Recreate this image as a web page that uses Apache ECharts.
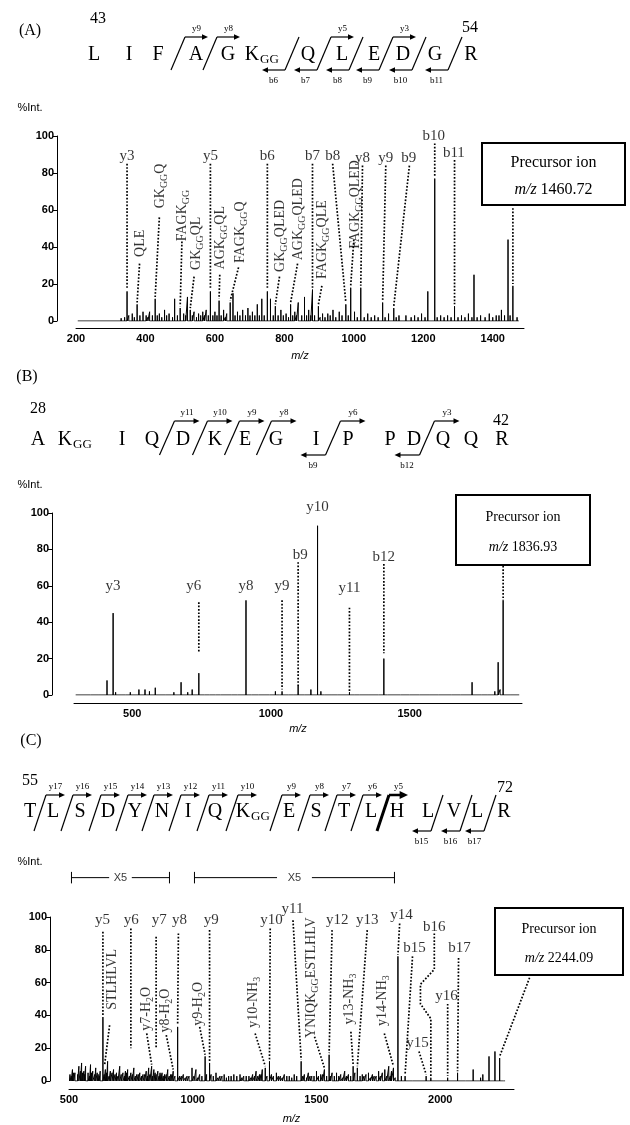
<!DOCTYPE html>
<html>
<head>
<meta charset="utf-8">
<script src="https://cdn.jsdelivr.net/npm/echarts@6/dist/echarts.min.js"></script>
<style>
  html, body { margin: 0; padding: 0; background: #fff; }
  #main { width: 630px; height: 1125px; }
</style>
</head>
<body>
<div id="main"></div>
<script>
// ---------- data: peak lists ----------
var mzA = [330,340,347,362,376,393,402,412,428,440,455,468,484,500,510,521,529,540,553,565,575,587,600,612,625,634,644,652,665,680,695,708,722,735,751,760,774,790,805,818,830,840,858,870,881,898,910,925,940,958,977,991,1002,1020,1040,1060,1083,1100,1115,1130,1150,1175,1195,1213,1233,1250,1270,1290,1310,1330,1346,1365,1390,1410,1425,1444,1458,1470];
var intA = [1.5,2,16,4,9,5,3,5,12,4,6,4,12,7,4,13,6,5,4,5,6,16,5,11,6,4,10,15,5,6,7,5,9,12,16,12,8,6,4,9,5,10,13,6,17,8,4,4,6,5,9,18,5,18,4,3,10,4,7,3,3,3,4,16,77,3,3,8,3,4,25,3,4,3,6,44,19,2];
// low-level noise peaks of spectrum A
var mzA2 = [335,352,368,384,407,420,434,447,461,478,492,516,535,547,559,570,581,594,606,618,630,658,672,688,701,715,728,742,768,782,797,812,824,835,850,864,876,887,903,917,932,948,966,984,1010,1030,1050,1070,1090,1122,1165,1185,1205,1240,1260,1280,1300,1320,1340,1355,1378,1400,1418,1434,1450];
var intA2 = [1,3,2,3,2,3,3,2,3,2,3,3,3,2,3,3,3,3,3,3,2,3,3,3,3,3,3,3,3,3,3,2,3,3,3,3,3,3,2,2,3,2,3,3,2,2,2,2,2,2,2,2,2,2,2,2,2,2,2,2,2,2,3,3,3];
var rangeA = [205, 1475];

var mzB = [409,431,463,493,524,546,562,583,621,650,676,700,716,740,778,818,857,910,955,995,1016,1040,1064,1098,1144,1168,1192,1241,1283,1320,1388,1407,1467,1536,1605,1684,1725,1782,1807,1819,1826,1837,1851];
var intB = [8,45,1,1.5,3,3,2,4,1,1.5,7,1.5,3,12,1,1,1,52,1,1,2,2,1,5,3,93,1,1,1.5,1,1,20,1,1,1,1,7,1,2,18,3,52,1];
var mzB2 = [350,380,440,475,510,600,640,690,760,800,880,930,975,1030,1080,1120,1180,1220,1300,1350,1420,1500,1570,1650,1760,1862];
var intB2 = [0.8,1,1.5,1,1,1,1,1,1,1,1,1,1,1,1,1,2,1,1,1,1,1,1,1,1,1];
var rangeB = [296, 1895];

var mzC = [504,514,524,540,551,560,567,577,587,596,608,618,626,637,647,656,667,680,692,705,718,728,737,750,762,774,786,799,812,822,834,843,852,859,868,876,886,899,911,921,939,947,962,977,997,1013,1028,1050,1068,1074,1094,1110,1127,1145,1166,1191,1206,1227,1242,1256,1270,1281,1293,1310,1318,1338,1354,1370,1390,1410,1438,1451,1467,1481,1500,1517,1532,1551,1563,1581,1598,1614,1629,1648,1655,1665,1685,1700,1710,1726,1741,1751,1766,1776,1792,1803,1811,1829,1843,1858,1889,1943,1962,1995,2030,2070,2102,2133,2163,2172,2197,2221,2240,2255];
var intC = [4,7,5,9,11,6,9,5,10,6,8,4,6,39,7,12,6,7,5,9,5,6,7,5,8,4,5,4,6,8,9,7,4,6,5,5,4,7,4,6,33,3,4,3,8,7,4,15,11,4,5,3,4,3,4,4,3,3,4,6,4,7,8,12,4,5,3,4,3,4,12,4,5,3,6,4,7,16,5,5,4,6,4,9,5,8,4,4,5,4,3,6,5,7,9,6,8,76,3,3,1,3,2,1,2,5,1,7,2,4,15,18,14,1];
// dense low-level grass of spectrum C
var mzC2 = [509,519,535,546,555,562,583,591,604,614,622,642,652,662,674,686,698,711,724,733,744,756,768,780,793,806,817,827,838,848,864,872,881,893,905,916,928,954,970,985,1005,1020,1037,1056,1083,1102,1118,1136,1155,1178,1198,1216,1235,1250,1263,1276,1300,1326,1346,1362,1380,1400,1420,1445,1460,1474,1490,1508,1525,1541,1556,1572,1590,1606,1621,1638,1676,1692,1718,1733,1758,1784,1798,1818];
var intC2 = [3,5,4,6,5,4,3,5,4,5,3,4,5,3,5,4,3,4,3,5,3,4,3,4,3,4,3,4,3,5,3,4,3,4,3,4,3,3,2,3,3,2,3,4,3,2,3,2,3,3,2,3,2,3,3,4,3,3,3,2,3,2,3,3,2,3,3,3,4,3,3,3,3,2,3,3,3,3,2,3,3,3,3,2];
var rangeC = [502, 2262];

var yTicks = [0, 20, 40, 60, 80, 100];

// peptide sequences, fragment sites (cleavage after residue n)
var seqA = ['L','I','F','A','G','K','Q','L','E','D','G','R'];
var ggA = [5], ySitesA = [3,4,7,9], bSitesA = [6,7,8,9,10,11], endsA = ['43','54'];
var seqB = ['A','K','I','Q','D','K','E','G','I','P','P','D','Q','Q','R'];
var ggB = [1], ySitesB = [4,5,6,7,9,12], bSitesB = [9,12], endsB = ['28','42'];
var seqC = ['T','L','S','D','Y','N','I','Q','K','E','S','T','L','H','L','V','L','R'];
var ggC = [8], ySitesC = [1,2,3,4,5,6,7,8,9,10,11,12,13], bSitesC = [15,16,17], endsC = ['55','72'];

var precursor = ['1460.72', '1836.93', '2244.09'];

// ---------- annotations (label anchor in m/z, %Int; leader lines) ----------
var annA = [
  {t:'y3', x:347, y:89, line:[[347,85],[347,17]]},
  {t:'y5', x:587, y:89, line:[[587,85],[587,17]]},
  {t:'b6', x:751, y:89, line:[[751,85],[751,17]]},
  {t:'b7', x:881, y:89, line:[[881,85],[881,18]]},
  {t:'b8', x:939, y:89, line:[[939,85],[977,10]]},
  {t:'y8', x:1025, y:88, line:[[1025,84],[1020,19]]},
  {t:'y9', x:1092, y:88, line:[[1092,84],[1083,11]]},
  {t:'b9', x:1158, y:88, line:[[1160,84],[1115,8]]},
  {t:'b10', x:1230, y:100, line:[[1233,96],[1233,78]]},
  {t:'b11', x:1288, y:91, line:[[1290,87],[1290,9]]},
  {line:[[1458,61],[1458,20]]},
  {t:'QLE', x:385, y:42, r:90, line:[[383,31],[376,10]]},
  {t:'GK{s|GG}Q', x:442, y:73, r:90, line:[[440,56],[428,13]]},
  {t:'FAGK{s|GG}', x:506, y:57, r:90, line:[[505,43],[500,8]]},
  {t:'GK{s|GG}QL', x:546, y:42, r:90, line:[[540,24],[529,7]]},
  {t:'AGK{s|GG}QL', x:616, y:45, r:90, line:[[614,25],[612,12]]},
  {t:'FAGK{s|GG}Q', x:673, y:48, r:90, line:[[668,29],[644,11]]},
  {t:'GK{s|GG}QLED', x:789, y:46, r:90, line:[[786,24],[774,9]]},
  {t:'AGK{s|GG}QLED', x:841, y:55, r:90, line:[[838,31],[818,10]]},
  {t:'FAGK{s|GG}QLE', x:910, y:44, r:90, line:[[908,19],[898,9]]},
  {t:'FAGK{s|GG}QLED', x:1005, y:63, r:90, line:[[1000,44],[991,19]]}
];
var annB = [
  {t:'y3', x:431, y:60},
  {t:'y6', x:722, y:60, line:[[740,51],[740,23]]},
  {t:'y8', x:910, y:60},
  {t:'y9', x:1040, y:60, line:[[1040,52],[1040,3]]},
  {t:'b9', x:1106, y:77, line:[[1098,73],[1098,5]]},
  {t:'y10', x:1168, y:103},
  {t:'y11', x:1283, y:59, line:[[1283,48],[1283,2]]},
  {t:'b12', x:1407, y:76, line:[[1407,72],[1407,23]]},
  {line:[[1837,71],[1837,52]]}
];
var annC = [
  {t:'y5', x:635, y:98, line:[[637,91],[637,40]]},
  {t:'y6', x:752, y:98, line:[[750,93],[750,20]]},
  {t:'y7', x:865, y:98, line:[[852,88],[852,20]]},
  {t:'y8', x:946, y:98, line:[[942,90],[939,34]]},
  {t:'y9', x:1075, y:98, line:[[1068,92],[1068,12]]},
  {t:'y10', x:1318, y:98, line:[[1313,93],[1310,13]]},
  {t:'y11', x:1403, y:105, line:[[1405,98],[1438,13]]},
  {t:'y12', x:1584, y:98, line:[[1563,92],[1551,17]]},
  {t:'y13', x:1705, y:98, line:[[1705,92],[1665,9]]},
  {t:'y14', x:1843, y:101, line:[[1836,96],[1829,77]]},
  {t:'b15', x:1896, y:81, line:[[1888,76],[1858,4]]},
  {t:'b16', x:1976, y:94, line:[[1976,90],[1976,68],[1920,59],[1920,47],[1962,38],[1962,3]]},
  {t:'b17', x:2078, y:81, line:[[2074,75],[2070,6]]},
  {t:'y16', x:2025, y:52, line:[[2030,47],[2030,3]]},
  {t:'y15', x:1908, y:23, line:[[1914,18],[1943,4]]},
  {line:[[2361,63],[2240,15]]},
  {t:'STLHLVL', x:676, y:62, r:90, line:[[664,34],[644,10]]},
  {t:'y7-H{s|2}O', x:812, y:44, r:90, line:[[814,29],[834,10]]},
  {t:'y8-H{s|2}O', x:890, y:43, r:90, line:[[893,28],[921,7]]},
  {t:'y9-H{s|2}O', x:1023, y:47, r:90, line:[[1028,33],[1050,16]]},
  {t:'y10-NH{s|3}', x:1245, y:48, r:90, line:[[1252,29],[1293,9]]},
  {t:'YNIQK{s|GG}ESTLHLV', x:1479, y:63, r:90, line:[[1492,27],[1532,8]]},
  {t:'y13-NH{s|3}', x:1633, y:50, r:90, line:[[1639,30],[1648,10]]},
  {t:'y14-NH{s|3}', x:1766, y:49, r:90, line:[[1774,29],[1811,9]]}
];
// x5 magnification bars above panel C
var x5Bars = [[510, 906], [1007, 1815]];

// ---------- layout ----------
var SERIF = 'Liberation Serif', SANS = 'Liberation Sans';
var GRIDS = [
  {left: 76, top: 136, width: 448, height: 185, min: 200, max: 1490, step: 200, lab: 200, yOff: 19, xOff: 7, gap: 22},
  {left: 74, top: 513, width: 448, height: 182, min: 290, max: 1905, step: 10, lab: 500, yOff: 22, xOff: 8, gap: 20},
  {left: 69, top: 917, width: 445, height: 167, min: 500, max: 2298, step: 500, lab: 500, yOff: 19, xOff: 8, gap: 24}
];

// stick spectrum: every peak drawn as a spike from the baseline
function stick(mz, it, range) {
  var pk = mz.map(function (m, i) { return [m, it[i]]; }).sort(function (a, b) { return a[0] - b[0]; });
  var pts = [[range[0], 0]];
  pk.forEach(function (p) { pts.push([p[0], 0], [p[0], p[1]], [p[0], 0]); });
  pts.push([range[1], 0]);
  return pts;
}

var rich = {
  s: {fontSize: 10, lineHeight: 10, verticalAlign: 'bottom', fontFamily: SERIF, color: '#000'},
  x: {fontSize: 11, fontFamily: SANS, color: '#000'}
};

function annSeries(ann, idx) {
  var lines = [], labels = [];
  ann.forEach(function (a) {
    if (a.line) lines.push({coords: a.line});
    if (a.t) labels.push({value: [a.x, a.y], t: a.t, label: {rotate: a.r || 0, fontSize: a.r ? 14 : 15}});
  });
  return [{
    type: 'lines', coordinateSystem: 'cartesian2d', xAxisIndex: idx, yAxisIndex: idx,
    polyline: true, silent: true, clip: false, z: 3,
    lineStyle: {color: '#000', width: 1.7, type: 'dotted', opacity: 1},
    data: lines
  }, {
    type: 'scatter', xAxisIndex: idx, yAxisIndex: idx, symbolSize: 0, silent: true, clip: false, z: 4,
    label: {
      show: true, position: 'inside', color: '#000', fontFamily: SERIF, fontSize: 15, lineHeight: 18,
      align: 'center', verticalAlign: 'middle',
      formatter: function (p) { return p.data.t; }, rich: rich
    },
    data: labels
  }];
}

// ---------- sequence diagrams (pixel layout) ----------
var seqLayout = [
  {resX: [94,129,158,196,228,252,308,342,374,403,435,471], cutX: {3:178,4:210,6:292,7:324,8:356,9:386,10:419,11:455},
   rowY: 55, yTop: 37, yBot: 70, dx: 7, arr: 23, fs: 20, ggDx: 8, nums: [[98,19],[470,28]]},
  {resX: [38,65,122,152,183,215,245,276,316,348,390,414,443,471,502], cutX: {4:167,5:200,6:232,7:264,9:333,12:427},
   rowY: 440, yTop: 421, yBot: 455, dx: 7.5, arr: 25, fs: 20, ggDx: 8, nums: [[38,409],[501,421]]},
  {resX: [30,53,80,108,135,162,188,215,243,289,316,344,371,397,428,454,477,504],
   cutX: {1:40,2:67,3:95,4:122,5:148,6:175,7:203,8:232,9:276,10:304,11:331,12:357,13:383,15:437,16:466,17:490},
   rowY: 812, yTop: 795, yBot: 831, dx: 6, arr: 19, fs: 20, ggDx: 8, bold: 13, nums: [[30,781],[505,788]]}
];

function txt(x, y, s, font, align) {
  return {type: 'text', x: x, y: y, silent: true,
    style: {text: s, font: font, fill: '#000', align: align || 'center', verticalAlign: 'middle',
            textAlign: align || 'center', textVerticalAlign: 'middle'}};
}
function seg(x1, y1, x2, y2, w) {
  return {type: 'line', silent: true, shape: {x1: x1, y1: y1, x2: x2, y2: y2}, style: {stroke: '#000', lineWidth: w || 1.2}};
}
function head(x, y, dir, w) {
  var s = w > 2 ? 1.4 : 1;
  return {type: 'polygon', silent: true,
    shape: {points: [[x, y], [x - dir * 6 * s, y - 2.8 * s], [x - dir * 6 * s, y + 2.8 * s]]}, style: {fill: '#000'}};
}

function seqGraphic(seq, gg, ySites, bSites, ends, L) {
  var els = [], n = seq.length;
  seq.forEach(function (r, i) {
    els.push(txt(L.resX[i], L.rowY, r, L.fs + 'px ' + SERIF));
    if (gg.indexOf(i) >= 0) els.push(txt(L.resX[i] + L.ggDx, L.rowY + 5, 'GG', '13px ' + SERIF, 'left'));
  });
  var sites = ySites.concat(bSites.filter(function (s) { return ySites.indexOf(s) < 0; }));
  sites.forEach(function (site) {
    var cx = L.cutX[site], w = (L.bold === site) ? 3 : 1.2;
    var x1 = cx - L.dx, x2 = cx + L.dx;
    els.push(seg(x1, L.yBot, x2, L.yTop, w));
    if (ySites.indexOf(site) >= 0) {
      var aw = (L.bold === site) ? 2.5 : 1.2;
      els.push(seg(x2, L.yTop, x2 + L.arr - 4, L.yTop, aw), head(x2 + L.arr, L.yTop, 1, aw));
      els.push(txt(x2 + L.arr / 2, L.yTop - 8, 'y' + (n - site), '9px ' + SERIF));
    }
    if (bSites.indexOf(site) >= 0) {
      els.push(seg(x1, L.yBot, x1 - L.arr + 4, L.yBot, 1.2), head(x1 - L.arr, L.yBot, -1, 1.2));
      els.push(txt(x1 - L.arr / 2, L.yBot + 11, 'b' + site, '9px ' + SERIF));
    }
  });
  els.push(txt(L.nums[0][0], L.nums[0][1], ends[0], '16px ' + SERIF));
  els.push(txt(L.nums[1][0], L.nums[1][1], ends[1], '16px ' + SERIF));
  return els;
}

function precursorBox(x, y, w, h, fs, value) {
  return [
    {type: 'rect', silent: true, shape: {x: x, y: y, width: w, height: h}, style: {fill: '#fff', stroke: '#000', lineWidth: 2}},
    txt(x + w / 2, y + h * 0.32, 'Precursor ion', fs + 'px ' + SERIF),
    {type: 'text', x: x + w / 2, y: y + h * 0.75, silent: true,
     style: {text: '{i|m/z} ' + value, font: fs + 'px ' + SERIF, fill: '#000', align: 'center', verticalAlign: 'middle',
             textAlign: 'center', textVerticalAlign: 'middle',
             rich: {i: {fontStyle: 'italic', fontSize: fs, fontFamily: SERIF, fill: '#000'}}}}
  ];
}

var graphics = []
  .concat(seqGraphic(seqA, ggA, ySitesA, bSitesA, endsA, seqLayout[0]))
  .concat(seqGraphic(seqB, ggB, ySitesB, bSitesB, endsB, seqLayout[1]))
  .concat(seqGraphic(seqC, ggC, ySitesC, bSitesC, endsC, seqLayout[2]))
  .concat([
    txt(30, 31, '(A)', '16px ' + SERIF), txt(27, 377, '(B)', '16px ' + SERIF), txt(31, 741, '(C)', '16px ' + SERIF),
    txt(30, 108, '%Int.', '11px ' + SANS), txt(30, 485, '%Int.', '11px ' + SANS), txt(30, 862, '%Int.', '11px ' + SANS)
  ])
  .concat(precursorBox(482, 143, 143, 62, 16, precursor[0]))
  .concat(precursorBox(456, 495, 134, 70, 14, precursor[1]))
  .concat(precursorBox(495, 908, 128, 67, 14, precursor[2]));

// ---------- chart ----------
var chart = echarts.init(document.getElementById('main'));
var series = [];
[[mzA.concat(mzA2), intA.concat(intA2), rangeA, annA],
 [mzB.concat(mzB2), intB.concat(intB2), rangeB, annB],
 [mzC.concat(mzC2), intC.concat(intC2), rangeC, annC]].forEach(function (p, i) {
  series.push({
    type: 'line', xAxisIndex: i, yAxisIndex: i, data: stick(p[0], p[1], p[2]),
    symbol: 'none', silent: true, z: 2, lineStyle: {color: '#000', width: 1}
  });
  series = series.concat(annSeries(p[3], i));
});

// X5 bars in panel C
var barLines = [], barLabels = [];
x5Bars.forEach(function (b) {
  var mid = (b[0] + b[1]) / 2, half = (b[1] - b[0]) * 0.06 + 22;
  barLines.push({coords: [[b[0], 124], [mid - half, 124]]}, {coords: [[mid + half, 124], [b[1], 124]]});
  barLines.push({coords: [[b[0], 120.5], [b[0], 127.5]]}, {coords: [[b[1], 120.5], [b[1], 127.5]]});
  barLabels.push({value: [mid, 124], t: '{x|X5}'});
});
series.push({
  type: 'lines', coordinateSystem: 'cartesian2d', xAxisIndex: 2, yAxisIndex: 2, polyline: true, silent: true, clip: false,
  lineStyle: {color: '#000', width: 1, opacity: 1}, data: barLines
}, {
  type: 'scatter', xAxisIndex: 2, yAxisIndex: 2, symbolSize: 0, silent: true, clip: false,
  label: {show: true, position: 'inside', formatter: function (p) { return p.data.t; }, rich: rich},
  data: barLabels
});

chart.setOption({
  animation: false,
  backgroundColor: '#fff',
  grid: GRIDS.map(function (g) { return {left: g.left, top: g.top, width: g.width, height: g.height}; }),
  xAxis: GRIDS.map(function (g, i) {
    return {
      type: 'value', gridIndex: i, min: g.min, max: g.max, interval: g.step, offset: g.xOff,
      name: 'm/z', nameLocation: 'middle', nameGap: g.gap,
      nameTextStyle: {fontFamily: SANS, fontStyle: 'italic', fontSize: 11, color: '#000'},
      axisLine: {show: true, onZero: false, lineStyle: {color: '#000', width: 1}},
      axisTick: {show: false}, splitLine: {show: false},
      axisLabel: {color: '#000', fontFamily: SANS, fontSize: 11, fontWeight: 'bold', margin: 5,
        formatter: function (v) { return v % g.lab === 0 ? String(v) : ''; }}
    };
  }),
  yAxis: GRIDS.map(function (g, i) {
    return {
      type: 'value', gridIndex: i, min: yTicks[0], max: yTicks[yTicks.length - 1], interval: yTicks[1] - yTicks[0],
      offset: g.yOff,
      axisLine: {show: true, lineStyle: {color: '#000', width: 1}},
      axisTick: {show: true, length: 4, lineStyle: {color: '#000'}},
      splitLine: {show: false},
      axisLabel: {color: '#000', fontFamily: SANS, fontSize: 11, fontWeight: 'bold', margin: 3}
    };
  }),
  series: series,
  graphic: {elements: graphics}
});

window.onresize = chart.resize;
</script>
</body>
</html>
